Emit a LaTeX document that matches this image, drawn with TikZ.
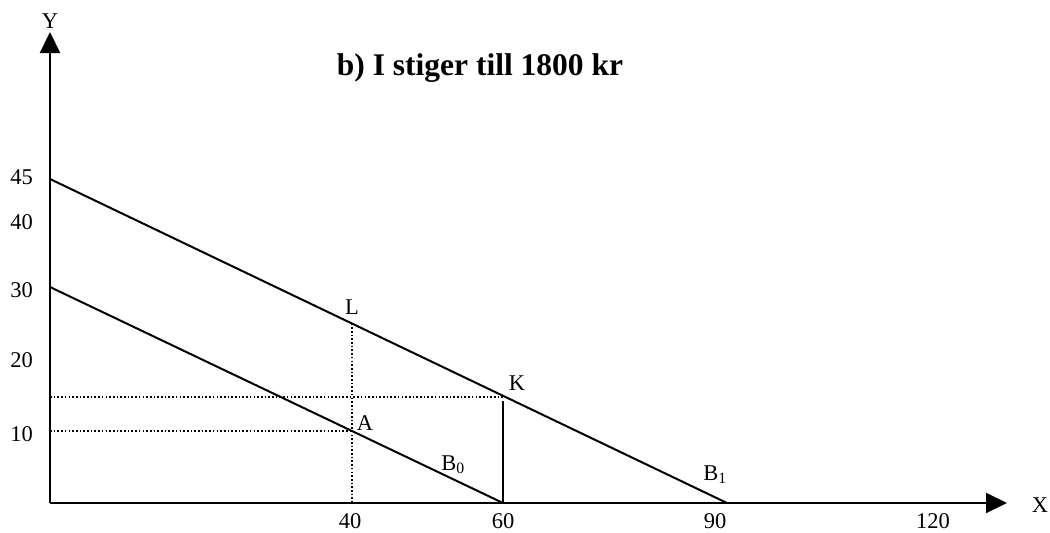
\documentclass[tikz,border=0pt]{standalone}
\usepackage{fontspec}
\setmainfont{Liberation Serif}
\usetikzlibrary{arrows.meta}
\begin{document}
\begin{tikzpicture}[x=1pt,y=-1pt,
  axis/.style={line width=2.2pt,-{Triangle[length=21pt,width=20pt]}},
  budget/.style={line width=2pt},
  guide/.style={line width=1.6pt,dash pattern=on 1.6pt off 2.1pt},
  lbl/.style={inner sep=0pt,font=\fontsize{22.5}{26}\selectfont},
  ttl/.style={inner sep=0pt,font=\fontsize{31.5}{36}\selectfont\bfseries}]
\useasboundingbox (0,0) rectangle (1050,533);
% key points
\coordinate (O) at (50,503);
\coordinate (Ytop) at (50,32);
\coordinate (Xend) at (1007,503);
\coordinate (Y45) at (50,179);
\coordinate (Y30) at (50,287);
\coordinate (X60) at (503,503);
\coordinate (X90) at (727,503);
\coordinate (X40) at (352,503);
\coordinate (A) at (352,431);
\coordinate (L) at (352,323.5);
\coordinate (K) at (503,397);
\coordinate (Kb) at (503,401);
\coordinate (Y15) at (50,397);
\coordinate (Y10) at (50,431);
% guides
\draw[guide] (Y15) -- (K);
\draw[guide] (Y10) -- (A);
\draw[guide] (L) -- (X40);
% budget lines
\draw[budget] (Y45) -- (X90);
\draw[budget] (Y30) -- (X60);
\draw[budget] (Kb) -- (X60);
% axes
\draw[axis] (O) -- (Ytop);
\draw[axis] (O) -- (Xend);
% labels
\node[lbl] (ylab) at (50,21) {Y};
\node[lbl] (xlab) at (1040,505) {X};
\node[ttl,anchor=base] (title) at (480,75) {b) I stiger till 1800 kr};
\node[lbl] (t45) at (21.5,177) {45};
\node[lbl] (t40) at (21.5,222) {40};
\node[lbl] (t30) at (21.5,290) {30};
\node[lbl] (t20) at (21.5,360) {20};
\node[lbl] (t10) at (21.5,434) {10};
\node[lbl] (b40) at (350,521) {40};
\node[lbl] (b60) at (503,521) {60};
\node[lbl] (b90) at (715,521) {90};
\node[lbl] (b120) at (933,521) {120};
\node[lbl] (nL) at (352,307) {L};
\node[lbl] (nK) at (517,383) {K};
\node[lbl] (nA) at (365,423) {A};
\node[lbl] (nB0) at (453,465) {B\textsubscript{0}};
\node[lbl] (nB1) at (715,475) {B\textsubscript{1}};
\end{tikzpicture}
\end{document}
